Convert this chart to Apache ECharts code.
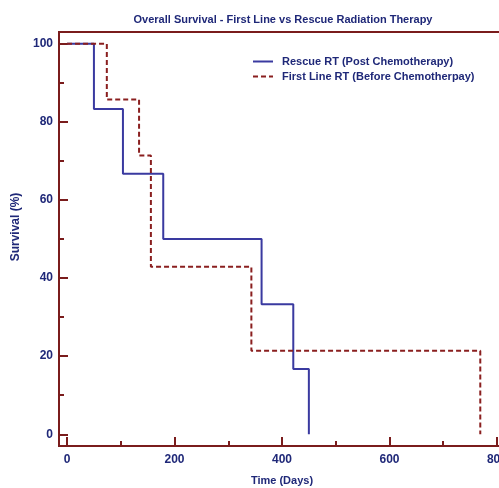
<!DOCTYPE html>
<html style="height: 100%">
   <head>
       <meta charset="utf-8">
   </head>
   <body style="height: 100%; margin: 0; background: #fff">
       <div id="container" style="width: 499px; height: 488px"></div>
       <script type="text/javascript" src="https://cdn.jsdelivr.net/npm/echarts@6/dist/echarts.min.js"></script>
       <script type="text/javascript">
// survival curves: [days, survival %]
var rescueRT = [[0, 100], [50, 83.3], [104, 66.7], [179, 50], [362, 33.3], [421, 16.7], [450, 0]];
var firstLineRT = [[0, 100], [74, 85.7], [134, 71.4], [156, 42.9], [343, 21.4], [769, 0]];

var xMajor = [0, 200, 400, 600, 800];
var xMinor = [100, 300, 500, 700];
var yMajor = [0, 20, 40, 60, 80, 100];
var yMinor = [10, 30, 50, 70, 90];

var axisRed = '#7a1c1c';
var navy = '#1f2878';
var font = '"Liberation Sans", Arial, sans-serif';

var dom = document.getElementById("container");
var myChart = echarts.init(dom);

option = {
    backgroundColor: '#fff',
    animation: false,
    title: {
        text: 'Overall Survival - First Line vs Rescue Radiation Therapy',
        left: 278,
        top: 9,
        textAlign: 'center',
        textStyle: { color: navy, fontSize: 11, fontWeight: 'bold', fontFamily: font }
    },
    legend: {
        orient: 'vertical',
        left: 252,
        top: 56,
        padding: 0,
        itemWidth: 20,
        itemHeight: 10,
        itemGap: 4,
        itemStyle: { opacity: 0 },
        textStyle: { color: navy, fontSize: 11, fontWeight: 'bold', fontFamily: font, padding: [0, 0, 0, 4] },
        data: ['Rescue RT (Post Chemotherapy)', 'First Line RT (Before Chemotherpay)']
    },
    grid: {
        left: 59,
        top: 32,
        width: 446,
        height: 414,
        outerBoundsMode: 'none',
        containLabel: false,
        show: true,
        borderColor: axisRed,
        borderWidth: 2
    },
    xAxis: [
        {
            type: 'value',
            min: -15,
            max: 815,
            name: 'Time (Days)',
            nameLocation: 'middle',
            nameGap: 29,
            nameTextStyle: { color: navy, fontSize: 11, fontWeight: 'bold', fontFamily: font },
            axisLine: { onZero: false, lineStyle: { color: axisRed, width: 2 } },
            axisTick: { inside: true, length: 9, lineStyle: { color: axisRed, width: 2 }, customValues: xMajor },
            axisLabel: { color: navy, fontSize: 12, fontWeight: 'bold', fontFamily: font, margin: 8, customValues: xMajor },
            splitLine: { show: false }
        },
        {
            type: 'value',
            min: -15,
            max: 815,
            position: 'bottom',
            axisLine: { show: false, onZero: false },
            axisTick: { inside: true, length: 5, lineStyle: { color: axisRed, width: 2 }, customValues: xMinor },
            axisLabel: { show: false },
            splitLine: { show: false }
        }
    ],
    yAxis: [
        {
            type: 'value',
            min: -3,
            max: 103,
            name: 'Survival (%)',
            nameLocation: 'middle',
            nameGap: 36,
            nameTextStyle: { color: navy, fontSize: 12, fontWeight: 'bold', fontFamily: font, padding: [0, 0, 0, 24] },
            axisLine: { onZero: false, lineStyle: { color: axisRed, width: 2 } },
            axisTick: { inside: true, length: 9, lineStyle: { color: axisRed, width: 2 }, customValues: yMajor },
            axisLabel: { color: navy, fontSize: 12, fontWeight: 'bold', fontFamily: font, margin: 6, customValues: yMajor },
            splitLine: { show: false }
        },
        {
            type: 'value',
            min: -3,
            max: 103,
            position: 'left',
            axisLine: { show: false, onZero: false },
            axisTick: { inside: true, length: 5, lineStyle: { color: axisRed, width: 2 }, customValues: yMinor },
            axisLabel: { show: false },
            splitLine: { show: false }
        }
    ],
    series: [
        {
            name: 'Rescue RT (Post Chemotherapy)',
            type: 'line',
            step: 'end',
            symbol: 'none',
            data: rescueRT,
            color: '#3a3aa0',
            lineStyle: { color: '#3a3aa0', width: 2 }
        },
        {
            name: 'First Line RT (Before Chemotherpay)',
            type: 'line',
            step: 'end',
            symbol: 'none',
            data: firstLineRT,
            color: '#8a1f1f',
            lineStyle: { color: '#8a1f1f', width: 2, type: [5, 3] }
        }
    ]
};

if (option && typeof option === "object") {
    myChart.setOption(option, true);
}
</script>
   </body>
</html>
